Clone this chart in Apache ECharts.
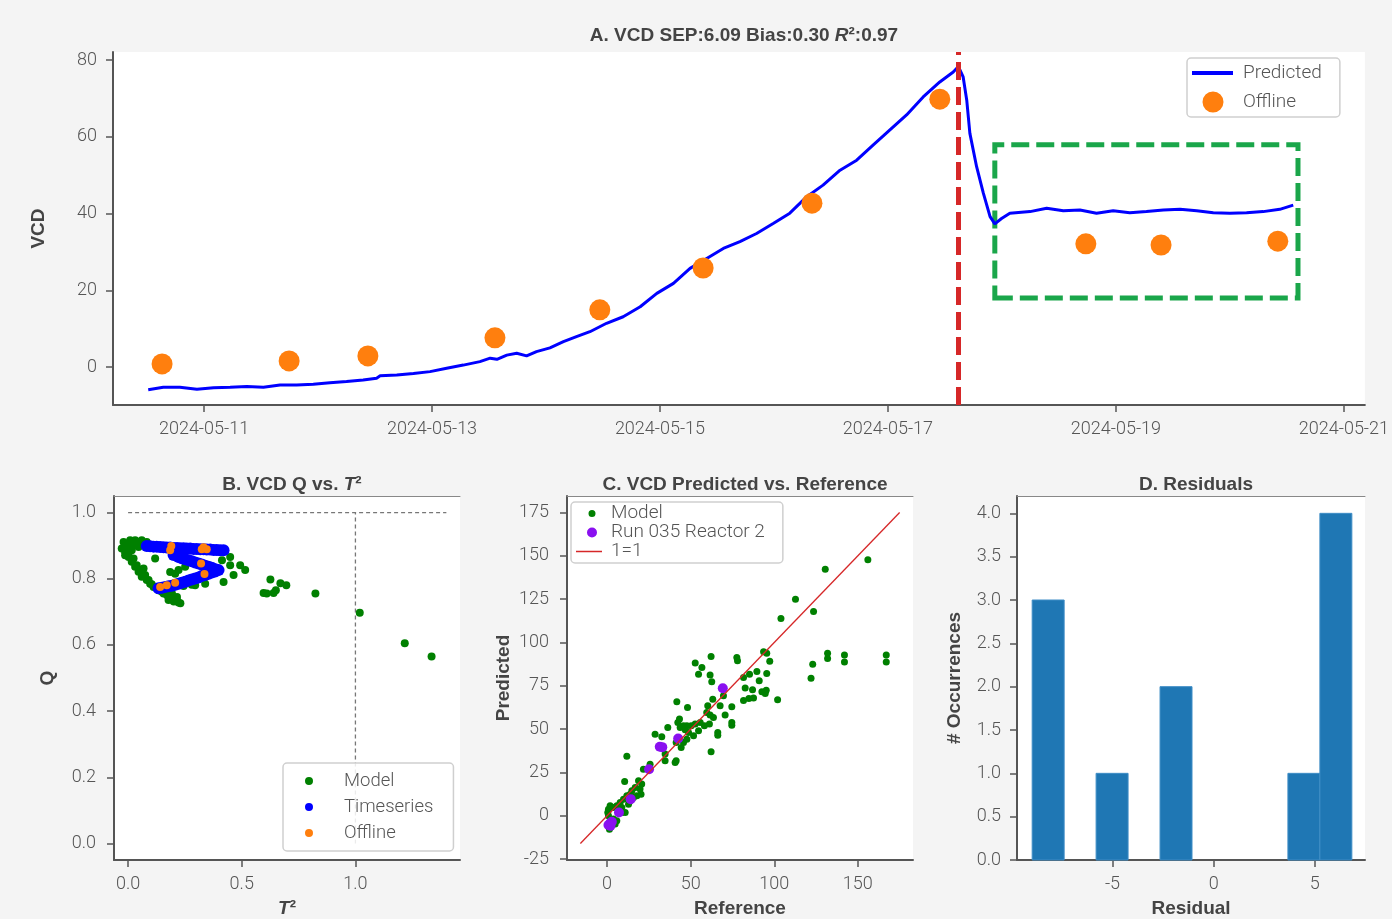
<!doctype html>
<html>
<head>
<meta charset="utf-8">
<title>VCD model report</title>
<script src="https://cdn.jsdelivr.net/npm/echarts@6/dist/echarts.min.js"></script>
<style>
  html, body { margin: 0; padding: 0; background: #f4f4f4; }
  #chart { width: 1392px; height: 919px; }
</style>
</head>
<body>
<div id="chart"></div>
<script>
// ---- A. predicted VCD timeseries ----
var predTimes = [
  '2024-05-10 12:15','2024-05-10 15:25','2024-05-10 18:55','2024-05-10 22:30',
  '2024-05-11 02:00','2024-05-11 05:30','2024-05-11 09:00','2024-05-11 12:30','2024-05-11 16:00','2024-05-11 19:30','2024-05-11 23:00',
  '2024-05-12 02:30','2024-05-12 06:00','2024-05-12 09:30','2024-05-12 12:20','2024-05-12 13:05','2024-05-12 16:35','2024-05-12 20:05','2024-05-12 23:35',
  '2024-05-13 03:05','2024-05-13 06:35','2024-05-13 10:05','2024-05-13 12:15','2024-05-13 13:40','2024-05-13 15:45','2024-05-13 17:50','2024-05-13 19:55','2024-05-13 22:00',
  '2024-05-14 00:50','2024-05-14 03:40','2024-05-14 06:25','2024-05-14 09:15','2024-05-14 12:45','2024-05-14 16:15','2024-05-14 19:50','2024-05-14 23:20',
  '2024-05-15 02:50','2024-05-15 06:20','2024-05-15 09:50','2024-05-15 13:20','2024-05-15 16:50','2024-05-15 20:20','2024-05-15 23:50',
  '2024-05-16 03:20','2024-05-16 06:55','2024-05-16 10:20','2024-05-16 13:55','2024-05-16 17:25','2024-05-16 20:55',
  '2024-05-17 00:25','2024-05-17 03:55','2024-05-17 07:25','2024-05-17 10:55','2024-05-17 13:45','2024-05-17 14:50','2024-05-17 15:50','2024-05-17 16:35','2024-05-17 17:15','2024-05-17 18:40','2024-05-17 20:05','2024-05-17 21:30','2024-05-17 22:30','2024-05-17 23:55',
  '2024-05-18 01:40','2024-05-18 05:55','2024-05-18 09:25','2024-05-18 12:55','2024-05-18 16:25','2024-05-18 19:55','2024-05-18 23:25',
  '2024-05-19 02:55','2024-05-19 06:25','2024-05-19 10:00','2024-05-19 13:30','2024-05-19 17:00','2024-05-19 20:30',
  '2024-05-20 00:00','2024-05-20 03:30','2024-05-20 07:00','2024-05-20 10:30','2024-05-20 13:20'
];
var predValues = [
  -5.9,-5.3,-5.3,-5.8,
  -5.4,-5.3,-5.1,-5.3,-4.7,-4.7,-4.5,
  -4.1,-3.8,-3.4,-2.9,-2.3,-2.1,-1.7,-1.2,
  -0.3,0.5,1.4,2.3,2.0,3.1,3.6,2.9,4.0,
  5.0,6.6,7.9,9.2,11.4,13.1,15.7,19.2,
  21.8,25.7,28.3,30.9,32.7,34.8,37.4,
  40.1,44.4,47.4,51.3,53.9,57.9,
  61.8,65.7,70.4,74.3,76.9,78.3,75.6,69.6,60.9,52.2,45.3,39.2,37.3,38.7,
  40.1,40.5,41.4,40.7,40.9,40.1,40.7,
  40.2,40.5,40.9,41.1,40.7,40.2,
  40.1,40.2,40.5,41.1,42.2
];
var offlineTimes = ['2024-05-10 15:10','2024-05-11 17:55','2024-05-12 10:30','2024-05-13 13:15','2024-05-14 11:20',
  '2024-05-15 09:05','2024-05-16 08:00','2024-05-17 10:55','2024-05-18 17:40','2024-05-19 09:30','2024-05-20 10:05'];
var offlineValues = [0.8,1.6,2.9,7.6,14.9,25.8,42.7,69.8,32.1,31.8,32.8];
var feedTime = '2024-05-17 14:45';
var boxTimes = ['2024-05-17 22:30','2024-05-20 14:20'];
var boxVcd = [18.0, 57.9];
var dateTicks = ['2024-05-11','2024-05-13','2024-05-15','2024-05-17','2024-05-19','2024-05-21'];
var vcdTicks = [0,20,40,60,80];

// ---- B. Q vs T2 ----
var modelT2 = [-0.013,0.009,0.031,0.060,0.082,-0.013,0.002,0.016,0.046,0.024,0.038,0.053,0.075,0.090,0.104,0.126,0.149,0.171,0.193,0.216,0.230,0.201,0.178,0.068,
  -0.020,-0.006,-0.028,0.038,0.024,0.068,0.009,-0.013,
  0.002,0.016,0.031,0.046,0.060,0.082,0.097,0.112,0.134,0.156,0.178,0.200,0.222,0.215,0.193,0.163,
  0.119,0.185,0.222,0.251,0.295,0.339,0.280,0.244,0.207,
  0.413,0.449,0.449,0.493,0.464,0.515,0.420,
  0.626,0.596,0.610,0.640,0.650,0.670,0.696,0.824,1.019,1.217,1.335];
var modelQ = [0.901,0.916,0.916,0.916,0.911,0.881,0.866,0.886,0.896,0.861,0.841,0.826,0.811,0.796,0.783,0.771,0.761,0.751,0.741,0.733,0.726,0.731,0.736,0.831,
  0.911,0.891,0.891,0.911,0.901,0.906,0.906,0.871,
  0.871,0.851,0.836,0.821,0.806,0.796,0.785,0.775,0.765,0.755,0.745,0.735,0.728,0.745,0.755,0.765,
  0.861,0.820,0.826,0.836,0.780,0.785,0.782,0.778,0.815,
  0.856,0.866,0.841,0.841,0.811,0.826,0.790,
  0.798,0.757,0.755,0.757,0.765,0.786,0.780,0.755,0.697,0.605,0.565];
var tsT2 = [0.082,0.097,0.112,0.126,0.141,0.156,0.170,0.185,0.200,0.215,0.229,0.244,0.258,0.273,0.288,0.302,0.317,0.332,0.346,0.361,0.376,0.390,0.405,0.420,
  0.200,0.222,0.236,0.251,0.266,0.280,0.295,0.310,0.324,0.339,0.354,0.368,0.383,0.398,
  0.383,0.368,0.354,0.339,0.324,0.310,0.295,0.280,0.266,0.251,0.236,0.222,0.207,0.193,0.178,0.163,0.149,0.134];
var tsQ = [0.899,0.898,0.897,0.897,0.896,0.895,0.894,0.894,0.893,0.893,0.892,0.892,0.891,0.891,0.890,0.890,0.889,0.889,0.888,0.888,0.887,0.887,0.886,0.886,
  0.872,0.866,0.862,0.859,0.856,0.853,0.849,0.846,0.843,0.839,0.836,0.833,0.829,0.826,
  0.822,0.819,0.815,0.811,0.808,0.804,0.801,0.798,0.795,0.791,0.788,0.785,0.782,0.779,0.777,0.775,0.773,0.771];
var offT2 = [0.185,0.190,0.324,0.332,0.346,0.321,0.336,0.141,0.170,0.207];
var offQ = [0.886,0.899,0.889,0.895,0.889,0.846,0.814,0.775,0.780,0.788];
var t2Limit = 1.0, qLimit = 1.0, t2LineEnd = 1.40;

// ---- C. predicted vs reference ----
var modelRef = [156,130.5,112.7,123.5,104,93.6,95.5,97.3,95.5,89.6,91,77.6,78,81.6,85.2,82.6,87,92.6,95.2,94.6,87.6,84.8,81.6,102,122,123,131.9,131.9,142,142,167,167,
  52.7,54.7,56.7,62.2,61.6,62.6,63.2,67.6,69.6,74.6,70.6,74.6,74.6,66.2,66.2,62.2,60.2,59.6,61.6,63.6,61.2,58.2,55.7,52.7,50.3,47.7,45.7,43.7,46.7,54.7,51.7,48.7,47.7,45.7,44.3,
  48.1,41.7,43.3,42.3,36.3,28.7,32.7,34.7,34.7,40.7,41.3,41.3,25.7,24.7,21.7,18.8,20.7,19.7,20.3,16.8,14.8,13.8,11.8,11.8,10.5,9.8,7.8,10.8,5.8,3.8,1.8,0.8,0.4,0.8,3.8,2.8,1.8,1.4,4.8,5.8,6.8,8.8,12.8,13.8,15.8,17.8,8.8];
var modelPred = [147.7,142.3,125,117.9,113.8,94.6,93.8,89.2,82.1,83.3,77.9,91.3,89.4,79.8,81.7,73.7,72.7,71.5,72.5,70.6,67.9,67.7,66.5,66.9,79.4,87.5,93.8,90.8,92.7,88.8,92.7,88.8,
  88.1,81.7,85.6,91.9,81.2,77.3,67.3,63.5,69.2,62.9,58.1,53.8,52.3,48.1,46.5,36.9,63.5,59.6,58.1,56.7,52.9,51.9,53.8,52.9,51.9,51.9,51.9,51,49.6,49,46.2,48.1,44.2,42.3,39.4,
  62.5,65.8,55.8,53.8,51,47.1,45.6,35.6,31.7,30.7,31.7,42.3,29.8,26.9,26.9,20.2,18.3,15.4,12.5,16.3,14.4,12.5,11.5,34.3,19.8,9.6,7.7,1.9,5.8,4.8,5.8,3.8,1.9,0,-1.9,-3.8,-5.8,-7.7,-4.8,-2.9,2.9,4.8,6.7,8.7,10.6,11.5,1.9];
var runRef = [69.2,42.5,31.5,33.0,25.1,14.1,7.1,2.8,1.8,0.8,2.0];
var runPred = [73.6,44.6,39.8,39.6,26.9,9.6,1.9,-3.4,-4.3,-5.3,-5.8];
var identityLine = [-16, 175];

// ---- D. residual histogram ----
var binEdges = [-8.97,-7.39,-5.81,-4.23,-2.65,-1.07,0.51,2.09,3.67,5.25,6.83];
var binCounts = [3,0,1,0,2,0,0,0,1,4];

function ts(s) { return +echarts.time.parse(s); }
function zip(a, b) { return a.map(function (v, i) { return [v, b[i]]; }); }

var FONT = 'Roboto, "Liberation Sans", sans-serif';
var BOLD = '"Liberation Sans", Arial, sans-serif';
var GREY = '#555';
var tickText = { color: GREY, fontSize: 18, fontFamily: FONT, fontWeight: 300 };
var nameText = { color: '#444', fontSize: 19, fontWeight: 'bold', fontFamily: BOLD,
  rich: { i: { fontStyle: 'italic', fontWeight: 'bold', fontSize: 19, color: '#444', fontFamily: BOLD } } };

function axis(o) {
  return {
    gridIndex: o.grid, type: 'value', min: o.min, max: o.max,
    axisLine: { show: true, onZero: false, lineStyle: { color: GREY, width: 2 } },
    axisTick: { show: true, length: 7, lineStyle: { color: GREY, width: 1.5 }, customValues: o.ticks },
    axisLabel: Object.assign({ customValues: o.ticks, margin: o.margin, formatter: o.fmt }, tickText),
    splitLine: { show: false },
    name: o.name, nameLocation: 'middle', nameGap: o.gap, nameTextStyle: nameText
  };
}
function topSpine(grid, min, max) {
  return { gridIndex: grid, type: 'value', position: 'top', min: min, max: max,
    axisLine: { show: true, onZero: false, lineStyle: { color: '#888', width: 1 } },
    axisTick: { show: false }, axisLabel: { show: false }, splitLine: { show: false } };
}
function fix1(v) { return v.toFixed(1); }
function dateLabel(v) { return echarts.time.format(v, '{yyyy}-{MM}-{dd}', false); }

// legend icons: corner specks pin the path's bounding box to the item box
function boxPath(w, h, inner) {
  return 'path://M0,0h0.01v0.01h-0.01z M' + (w - 0.01) + ',' + (h - 0.01) + 'h0.01v0.01h-0.01z ' + inner;
}
function dotIcon(w, h, cx, r) {
  var cy = h / 2;
  return boxPath(w, h, 'M' + (cx - r) + ',' + cy + 'a' + r + ',' + r + ' 0 1,0 ' + (2 * r) + ',0a' + r + ',' + r + ' 0 1,0 ' + (-2 * r) + ',0z');
}
function barIcon(w, h, x0, x1, t) {
  var cy = h / 2;
  return boxPath(w, h, 'M' + x0 + ',' + (cy - t / 2) + 'H' + x1 + 'V' + (cy + t / 2) + 'H' + x0 + 'Z');
}
function legendBox(o) {
  return {
    orient: 'vertical', left: o.left, top: o.top, itemWidth: o.w, itemHeight: o.h, itemGap: o.gap,
    padding: o.pad, selectedMode: false, data: o.data,
    backgroundColor: 'rgba(255,255,255,0.85)', borderColor: '#cfcfcf', borderWidth: 1.5, borderRadius: 4,
    itemStyle: { borderWidth: 0 },
    textStyle: { fontSize: o.fs, lineHeight: o.h, color: GREY, fontFamily: FONT, fontWeight: 300 }
  };
}
function dot(color) { return { color: color, opacity: 1 }; }

var chart = echarts.init(document.getElementById('chart'), null, { renderer: 'canvas' });

var option = {
  backgroundColor: '#f4f4f4',
  animation: false,
  title: [
    { text: 'A. VCD SEP:6.09 Bias:0.30 {i|R}²:0.97', left: 739, top: 21, textAlign: 'center', textStyle: nameText },
    { text: 'B. VCD Q vs. {i|T}²', left: 287, top: 470, textAlign: 'center', textStyle: nameText },
    { text: 'C. VCD Predicted vs. Reference', left: 740, top: 470, textAlign: 'center', textStyle: nameText },
    { text: 'D. Residuals', left: 1191, top: 470, textAlign: 'center', textStyle: nameText }
  ],
  grid: [
    { left: 113, top: 52, width: 1252, height: 353, show: true, backgroundColor: '#fff', borderWidth: 0 },
    { left: 114, top: 496, width: 346, height: 364, show: true, backgroundColor: '#fff', borderWidth: 0 },
    { left: 567, top: 496, width: 346, height: 364, show: true, backgroundColor: '#fff', borderWidth: 0 },
    { left: 1017, top: 496, width: 348, height: 364, show: true, backgroundColor: '#fff', borderWidth: 0 }
  ],
  legend: [
    legendBox({ left: 1187, top: 58, w: 46, h: 22, gap: 7, pad: [4, 18, 4, 5], fs: 19,
      data: [{ name: 'Predicted', icon: barIcon(46, 22, 0, 41, 4) }, { name: 'Offline', icon: dotIcon(46, 22, 21, 10.5) }] }),
    legendBox({ left: 283, top: 763, w: 49, h: 20, gap: 6, pad: [8, 20, 8, 7], fs: 18.5,
      data: [{ name: 'Model', icon: dotIcon(49, 20, 19, 4) }, { name: 'Timeseries', icon: dotIcon(49, 20, 19, 4) },
             { name: 'Offline', icon: dotIcon(49, 20, 19, 4) }] }),
    legendBox({ left: 571, top: 502, w: 31, h: 19, gap: 0, pad: [2, 18, 2, 4], fs: 19,
      data: [{ name: 'Model', icon: dotIcon(31, 19, 17, 3.5) }, { name: 'Run 035 Reactor 2', icon: dotIcon(31, 19, 17, 5) },
             { name: '1=1', icon: barIcon(31, 19, 1, 27, 1.6) }] })
  ],
  xAxis: [
    axis({ grid: 0, min: ts('2024-05-10 04:50'), max: ts('2024-05-21 04:25'), margin: 15,
      ticks: dateTicks.map(ts), fmt: dateLabel }),
    axis({ grid: 1, min: -0.062, max: 1.46, ticks: [0, 0.5, 1.0], margin: 15, fmt: fix1, name: '{i|T}²', gap: 39 }),
    axis({ grid: 2, min: -24, max: 183, ticks: [0, 50, 100, 150], margin: 15, name: 'Reference', gap: 39 }),
    axis({ grid: 3, min: -9.72, max: 7.48, ticks: [-5, 0, 5], margin: 15, name: 'Residual', gap: 39 }),
    topSpine(1, -0.062, 1.46), topSpine(2, -24, 183), topSpine(3, -9.72, 7.48)
  ],
  yAxis: [
    axis({ grid: 0, min: -9.9, max: 82.1, ticks: vcdTicks, margin: 16, name: 'VCD', gap: 65 }),
    axis({ grid: 1, min: -0.05, max: 1.05, ticks: [0, 0.2, 0.4, 0.6, 0.8, 1.0], margin: 18, fmt: fix1, name: 'Q', gap: 57 }),
    axis({ grid: 2, min: -25.5, max: 184.5, ticks: [-25, 0, 25, 50, 75, 100, 125, 150, 175], margin: 18, name: 'Predicted', gap: 54 }),
    axis({ grid: 3, min: 0, max: 4.2, ticks: [0, 0.5, 1, 1.5, 2, 2.5, 3, 3.5, 4], margin: 16, fmt: fix1, name: '# Occurrences', gap: 53 })
  ],
  series: [
    {
      name: 'Predicted', type: 'line', xAxisIndex: 0, yAxisIndex: 0, color: '#0000ff',
      data: zip(predTimes.map(ts), predValues), symbol: 'none', silent: true,
      lineStyle: { color: '#0000ff', width: 3 }, z: 3,
      markLine: { symbol: 'none', silent: true, label: { show: false },
        lineStyle: { color: '#d62728', width: 5, type: [18, 7] },
        data: [{ xAxis: ts(feedTime) }] },
      markArea: { silent: true,
        itemStyle: { color: 'rgba(0,0,0,0)', borderColor: '#1aa64a', borderWidth: 5, borderType: [18, 7] },
        data: [[{ xAxis: ts(boxTimes[0]), yAxis: boxVcd[0] }, { xAxis: ts(boxTimes[1]), yAxis: boxVcd[1] }]] }
    },
    { name: 'Offline', type: 'scatter', xAxisIndex: 0, yAxisIndex: 0, color: '#ff7f0e', z: 4,
      data: zip(offlineTimes.map(ts), offlineValues), symbolSize: 21, itemStyle: dot('#ff7f0e') },

    { name: 'Model', type: 'scatter', xAxisIndex: 1, yAxisIndex: 1, color: '#008000',
      data: zip(modelT2, modelQ), symbolSize: 8, itemStyle: dot('#008000') },
    { name: 'Timeseries', type: 'scatter', xAxisIndex: 1, yAxisIndex: 1, color: '#0000ff',
      data: zip(tsT2, tsQ), symbolSize: 12, itemStyle: dot('#0000ff') },
    { name: 'Offline', type: 'scatter', xAxisIndex: 1, yAxisIndex: 1, color: '#ff7f0e',
      data: zip(offT2, offQ), symbolSize: 8, itemStyle: dot('#ff7f0e') },
    { name: 'Q limit', type: 'line', xAxisIndex: 1, yAxisIndex: 1, symbol: 'none', silent: true,
      data: [[0, qLimit], [t2LineEnd, qLimit]], lineStyle: { color: '#777', width: 1.3, type: [4, 3] } },
    { name: 'T2 limit', type: 'line', xAxisIndex: 1, yAxisIndex: 1, symbol: 'none', silent: true,
      data: [[t2Limit, 0], [t2Limit, qLimit]], lineStyle: { color: '#777', width: 1.3, type: [4, 3] } },

    { name: 'Model', type: 'scatter', xAxisIndex: 2, yAxisIndex: 2, color: '#008000',
      data: zip(modelRef, modelPred), symbolSize: 7, itemStyle: dot('#008000') },
    { name: 'Run 035 Reactor 2', type: 'scatter', xAxisIndex: 2, yAxisIndex: 2, color: '#8a10f0',
      data: zip(runRef, runPred), symbolSize: 10, itemStyle: dot('#8a10f0') },
    { name: '1=1', type: 'line', xAxisIndex: 2, yAxisIndex: 2, color: '#d62728', symbol: 'none', silent: true,
      data: [[identityLine[0], identityLine[0]], [identityLine[1], identityLine[1]]], lineStyle: { color: '#d62728', width: 1.3 } },

    {
      name: 'Residuals', type: 'custom', xAxisIndex: 3, yAxisIndex: 3, silent: true,
      data: binCounts.map(function (c, i) { return [binEdges[i], binEdges[i + 1], c]; }).filter(function (d) { return d[2] > 0; }),
      encode: { x: [0, 1], y: 2 },
      renderItem: function (params, api) {
        var p0 = api.coord([api.value(0), api.value(2)]);
        var p1 = api.coord([api.value(1), 0]);
        return { type: 'rect', shape: { x: p0[0], y: p0[1], width: p1[0] - p0[0], height: p1[1] - p0[1] },
          style: { fill: '#1f77b4', stroke: '#3f8dc6', lineWidth: 1 } };
      }
    }
  ]
};
chart.setOption(option);
</script>
</body>
</html>
